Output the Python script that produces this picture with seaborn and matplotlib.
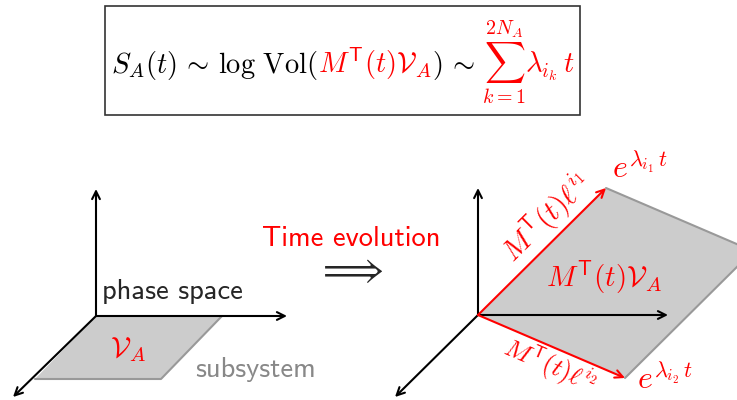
import matplotlib
matplotlib.use("Agg")
import matplotlib.pyplot as plt
import seaborn as sns
from matplotlib.patches import Polygon, Rectangle
from matplotlib.offsetbox import TextArea, HPacker, AnnotationBbox

sns.set_style("white")
plt.rcParams["mathtext.fontset"] = "cm"

RED = "#ff0000"
GREY_FILL = "#cccccc"
GREY_EDGE = "#999999"

# left picture: phase space with the subsystem volume
left_origin = (96, 316)
left_tips = [(96, 189), (287, 316), (13, 397)]
left_u = (126, 0)
left_v = (-61, 63)

# right picture: volume after time evolution
right_origin = (478, 315)
right_tips = [(478, 188), (668, 315), (395, 397)]
right_a = (128, -127)
right_b = (147, 63)

# top formula, split by colour
formula_parts = [r"$S_A(t)\,\sim\,\log\,\mathrm{Vol}($",
                 r"$M^{\mathsf{T}}(t)\mathcal{V}_A$",
                 r"$)\,\sim$",
                 r"$\,\,\sum_{k=1}^{2N_A}\lambda_{i_k}\,t$"]
formula_colors = ["black", RED, "black", RED]

# growth factors at the ends of the red vectors
growth_sup = [r"$\lambda_{i_1}\,t$", r"$\lambda_{i_2}\,t$"]


def corners(o, u, v):
    return [o, (o[0] + u[0], o[1] + u[1]),
            (o[0] + u[0] + v[0], o[1] + u[1] + v[1]), (o[0] + v[0], o[1] + v[1])]


def draw_axes(ax, o, tips, color="black"):
    for t in tips:
        ax.annotate("", xy=t, xytext=o,
                    arrowprops=dict(arrowstyle="->", color=color, lw=1.5,
                                    shrinkA=0, shrinkB=0, mutation_scale=14))


fig = plt.figure(figsize=(7.37, 4.0), dpi=100)
ax = fig.add_axes([0, 0, 1, 1])
ax.set_xlim(0, 737)
ax.set_ylim(400, 0)
ax.axis("off")

# left parallelogram
p = corners(left_origin, left_u, left_v)
ax.add_patch(Polygon(p, closed=True, facecolor=GREY_FILL, edgecolor="none"))
ax.plot([p[1][0], p[2][0], p[3][0]], [p[1][1], p[2][1], p[3][1]], color=GREY_EDGE, lw=1.5)
draw_axes(ax, left_origin, left_tips)

# right parallelogram
q = corners(right_origin, right_a, right_b)
ax.add_patch(Polygon(q, closed=True, facecolor=GREY_FILL, edgecolor="none"))
ax.plot([q[1][0], q[2][0], q[3][0]], [q[1][1], q[2][1], q[3][1]], color=GREY_EDGE, lw=1.5)
draw_axes(ax, right_origin, right_tips)
draw_axes(ax, right_origin, [q[1], q[3]], color=RED)

# texts
ax.text(102, 292, "phase space", fontsize=20.5, family="cmss10", va="center", ha="left")
ax.text(128, 350, r"$\mathcal{V}_A$", fontsize=21, color=RED, ha="center", va="center")
ax.text(195, 370, "subsystem", fontsize=20.5, family="cmss10", color="#888888", va="center", ha="left")
ax.text(351, 238, "Time evolution", fontsize=20.5, family="cmss10", color=RED, va="center", ha="center")
ax.text(350, 270, r"$\Longrightarrow$", fontsize=28, va="center", ha="center")

ax.text(546, 218, r"$M^{\mathsf{T}}(t)\ell^{i_1}$", fontsize=21, color=RED,
        rotation=44.8, rotation_mode="anchor", ha="center", va="center")
ax.text(604, 277, r"$M^{\mathsf{T}}(t)\mathcal{V}_A$", fontsize=21, color=RED, ha="center", va="center")
ax.text(550, 365.5, r"$M^{\mathsf{T}}(t)\ell^{i_2}$", fontsize=18.5, color=RED,
        rotation=-23.2, rotation_mode="anchor", ha="center", va="center")

for (ex, ey), sup in zip([(612, 177), (637, 388)], growth_sup):
    ax.text(ex, ey, r"$e$", fontsize=23, color=RED, ha="left", va="baseline")
    ax.text(ex + 17, ey - 10, sup, fontsize=16, color=RED, ha="left", va="baseline")

# framed formula
ax.add_patch(Rectangle((105, 6), 475, 109, fill=False, edgecolor="#333333", lw=1.2))
parts = [TextArea(s, textprops=dict(color=c, fontsize=20.5)) for s, c in zip(formula_parts, formula_colors)]
pack = HPacker(children=parts, align="baseline", pad=0, sep=0)
ax.add_artist(AnnotationBbox(pack, (343, 62), xycoords="data", frameon=False, box_alignment=(0.5, 0.5)))

fig.savefig("out.png", dpi=100)
